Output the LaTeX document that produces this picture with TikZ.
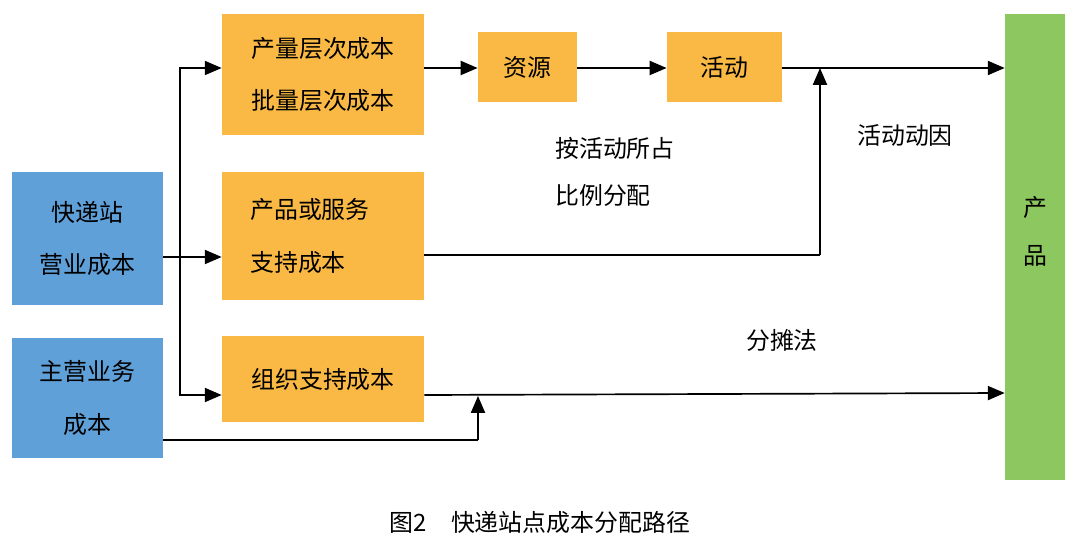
\documentclass[tikz,border=0pt]{standalone}
\usepackage{fontspec}
\setmainfont{Noto Sans CJK SC}
\usetikzlibrary{arrows.meta}
\definecolor{boxblue}{HTML}{5FA0D8}
\definecolor{boxorange}{HTML}{F9B944}
\definecolor{boxgreen}{HTML}{8DC75F}
\begin{document}
\begin{tikzpicture}[x=0.025cm,y=-0.025cm,
    box/.style={rectangle, draw=none, inner sep=0pt, align=center, font=\fontsize{17}{37}\selectfont},
    flow/.style={-{Triangle[length=12pt,width=10pt]}, line width=1.2pt},
    note/.style={align=left, font=\fontsize{17}{33}\selectfont}
]
    \useasboundingbox (0,0) rectangle (1080,551);

    \node[box, fill=boxblue, minimum width=3.78cm, minimum height=3.33cm] (yy) at (87.5,238.5) {快递站\\营业成本};
    \node[box, fill=boxblue, minimum width=3.78cm, minimum height=2.98cm] (zy) at (87.5,398) {主营业务\\成本};

    \node[box, fill=boxorange, minimum width=5.05cm, minimum height=3.03cm] (cl) at (323,74.5) {产量层次成本\\批量层次成本};
    \node[box, fill=boxorange, minimum width=5.05cm, minimum height=3.2cm] (cp) at (323,236) {};
    \node[box, align=left, anchor=west] (cpt) at (250,236) {产品或服务\\支持成本};
    \node[box, fill=boxorange, minimum width=5.05cm, minimum height=2.15cm] (zz) at (323,379) {组织支持成本};
    \node[box, fill=boxorange, minimum width=2.48cm, minimum height=1.75cm] (zyuan) at (527.5,67) {资源};
    \node[box, fill=boxorange, minimum width=2.88cm, minimum height=1.75cm] (hd) at (724.5,67) {活动};

    \node[box, fill=boxgreen, minimum width=1.5cm, minimum height=11.65cm] (cpin) at (1035,247) {};
    \node[box, font=\fontsize{17}{34}\selectfont] (cpint) at (1035,231) {产\\品};

    \node[note] (bl) at (615,172) {按活动所占\\比例分配};
    \node[note] (dy) at (905,135) {活动动因};
    \node[note] (ft) at (782,340) {分摊法};
    \node[font=\fontsize{17}{20}\selectfont] (cap) at (540,522) {图2\quad 快递站点成本分配路径};

    \coordinate (sp) at (180,257);
    \coordinate (jh) at (820,255);
    \coordinate (jz) at (478,440);

    \draw[line width=1.2pt] (yy.east |- sp) -- (sp);
    \draw[flow] (sp) |- (cl.west |- 0,68);
    \draw[flow] (sp) -- (cp.west |- sp);
    \draw[flow] (sp) |- (zz.west |- 0,395);
    \draw[flow] (cl.east |- 0,68) -- (zyuan.west |- 0,68);
    \draw[flow] (zyuan.east |- 0,68) -- (hd.west |- 0,68);
    \draw[flow] (hd.east |- 0,68) -- (cpin.west |- 0,68);
    \draw[line width=1.2pt] (cp.east |- jh) -- (jh);
    \draw[flow] (jh) -- (820,68);
    \draw[flow] (zz.east |- 0,395) -- (cpin.west |- 0,393);
    \draw[line width=1.2pt] (zy.east |- jz) -- (jz);
    \draw[flow] (jz) -- (478,396);
\end{tikzpicture}
\end{document}
